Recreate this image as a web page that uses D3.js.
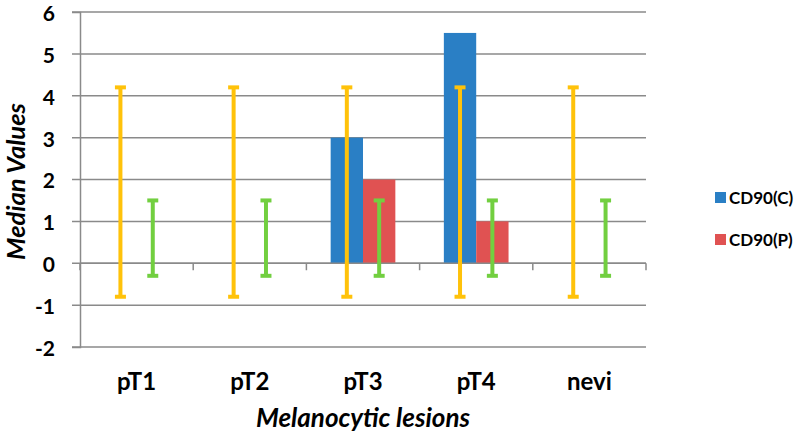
<!DOCTYPE html>
<html><head><meta charset="utf-8">
<script src="https://cdn.jsdelivr.net/npm/d3@7"></script>
<style>body{margin:0;background:#fff}svg{display:block}text{font-family:Lato,"Open Sans",sans-serif}</style>
</head><body><svg id="c" width="796" height="435"></svg>
<script>
const categories = ["pT1","pT2","pT3","pT4","nevi"];
const seriesNames = ["CD90(C)","CD90(P)"];
const cd90C = [0,0,3,5.5,0];
const cd90P = [0,0,2,1,0];
const errCLow = [-0.8,-0.8,-0.8,-0.8,-0.8];
const errCHigh = [4.2,4.2,4.2,4.2,4.2];
const errPLow = [-0.3,-0.3,-0.3,-0.3,-0.3];
const errPHigh = [1.5,1.5,1.5,1.5,1.5];
const yTicks = [-2,-1,0,1,2,3,4,5,6];
const colors = ["#2a7fc5","#e05252"];
const errColors = ["#ffc20a","#72cf40"];

const svg = d3.select("#c");
const L=80, R=646, T=12, B=347;
const x = d3.scaleBand().domain(categories).range([L,R]).paddingInner(0).paddingOuter(0);
const y = d3.scaleLinear().domain([-2,6]).range([B,T]);
const bw = x.bandwidth()/3.5;
const x1 = d3.scaleBand().domain(seriesNames).range([0,2*bw]);
const off = (x.bandwidth()-2*bw)/2;
const gridCol="#8a8a8a";

// gridlines
svg.append("g").selectAll("line").data(yTicks).join("line")
  .attr("x1",L-8).attr("x2",R).attr("y1",d=>y(d)).attr("y2",d=>y(d))
  .attr("stroke",gridCol).attr("stroke-width",1.5);

// bars
const series=[cd90C,cd90P];
series.forEach((vals,si)=>{
  svg.append("g").selectAll("rect").data(categories).join("rect")
    .attr("x",c=>x(c)+off+x1(seriesNames[si]))
    .attr("width",x1.bandwidth())
    .attr("y",(c,i)=>y(Math.max(0,vals[i])))
    .attr("height",(c,i)=>Math.abs(y(vals[i])-y(0)))
    .attr("fill",colors[si]);
});

// axes
const yAxis = svg.append("g").attr("transform",`translate(${L},0)`)
  .call(d3.axisLeft(y).tickValues(yTicks).tickSize(8).tickPadding(17).tickFormat(d=>String(d)));
yAxis.select(".domain").attr("stroke",gridCol).attr("stroke-width",1.5);
yAxis.selectAll(".tick line").remove();
yAxis.selectAll("text").attr("font-size",21).attr("dy","0.4em").attr("font-weight","bold").attr("fill","#000").attr("font-family","Lato");

const xAxisG = svg.append("g").attr("transform",`translate(0,${y(0)})`);
xAxisG.append("line").attr("x1",L).attr("x2",R).attr("stroke",gridCol).attr("stroke-width",1.5);
xAxisG.selectAll("line.t").data(categories.map(c=>x(c)+x.bandwidth()).concat([L])).join("line").attr("class","t")
  .attr("x1",d=>d).attr("x2",d=>d).attr("y1",0).attr("y2",7).attr("stroke",gridCol).attr("stroke-width",1.5);

// error bars
const errs=[[errCLow,errCHigh],[errPLow,errPHigh]];
errs.forEach(([lo,hi],si)=>{
  const g=svg.append("g");
  categories.forEach((c,i)=>{
    const cx=x(c)+off+x1(seriesNames[si])+x1.bandwidth()/2;
    g.append("line").attr("x1",cx).attr("x2",cx).attr("y1",y(lo[i])).attr("y2",y(hi[i]))
      .attr("stroke",errColors[si]).attr("stroke-width",4);
    [lo[i],hi[i]].forEach(v=>{
      g.append("line").attr("x1",cx-5.5).attr("x2",cx+5.5).attr("y1",y(v)).attr("y2",y(v))
        .attr("stroke",errColors[si]).attr("stroke-width",4);
    });
  });
});

// category labels
svg.append("g").selectAll("text").data(categories).join("text")
  .attr("x",c=>x(c)+x.bandwidth()/2).attr("y",390)
  .attr("text-anchor","middle").attr("font-size",24).attr("font-weight","bold").text(d=>d);

// axis titles
svg.append("text").attr("x",(L+R)/2).attr("y",427).attr("text-anchor","middle")
  .attr("font-size",26).attr("font-weight","bold").attr("font-style","italic").text("Melanocytic lesions");
svg.append("text").attr("transform",`translate(24.5,${(T+B)/2+2}) rotate(-90)`).attr("text-anchor","middle")
  .attr("font-size",25.5).attr("font-weight","bold").attr("font-style","italic").text("Median Values");

// legend
const lg=svg.append("g");
seriesNames.forEach((n,i)=>{
  const yy=198+i*42;
  lg.append("rect").attr("x",715).attr("y",yy-6).attr("width",11).attr("height",11).attr("fill",colors[i]);
  lg.append("text").attr("x",729).attr("y",yy+6).attr("font-size",17).attr("font-weight","bold").text(n);
});
</script></body></html>
